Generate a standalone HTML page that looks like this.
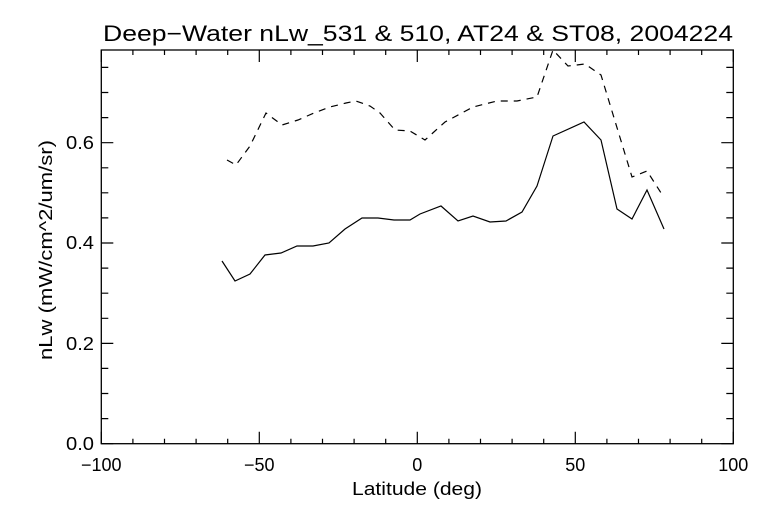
<!DOCTYPE html>
<html><head><style>body{margin:0;background:#fff}svg text{font-family:"Liberation Sans",sans-serif;fill:#000}</style></head><body>
<svg width="768" height="512" xmlns="http://www.w3.org/2000/svg">
<rect width="768" height="512" fill="#fff"/>
<text x="103" y="41" font-size="22" textLength="630" lengthAdjust="spacingAndGlyphs">Deep−Water nLw_531 &amp; 510, AT24 &amp; ST08, 2004224</text>
<g stroke="#000" stroke-width="1.3" fill="none">
<rect x="101.3" y="50" width="632" height="393.7"/>
</g>
<g stroke="#000" stroke-width="1.2">
<path d="M101.3 443.7v-12M259.3 443.7v-12M417.3 443.7v-12M575.3 443.7v-12M733.3 443.7v-12M101.3 50v12M259.3 50v12M417.3 50v12M575.3 50v12M733.3 50v12"/>
<path d="M132.9 443.7v-5M164.5 443.7v-5M196.1 443.7v-5M227.7 443.7v-5M290.9 443.7v-5M322.5 443.7v-5M354.1 443.7v-5M385.7 443.7v-5M448.9 443.7v-5M480.5 443.7v-5M512.1 443.7v-5M543.7 443.7v-5M606.9 443.7v-5M638.5 443.7v-5M670.1 443.7v-5M701.7 443.7v-5M132.9 50v5M164.5 50v5M196.1 50v5M227.7 50v5M290.9 50v5M322.5 50v5M354.1 50v5M385.7 50v5M448.9 50v5M480.5 50v5M512.1 50v5M543.7 50v5M606.9 50v5M638.5 50v5M670.1 50v5M701.7 50v5"/>
<path d="M101.3 443.7h12M101.3 343.4h12M101.3 243h12M101.3 142.7h12M733.3 443.7h-12M733.3 343.4h-12M733.3 243h-12M733.3 142.7h-12"/>
<path d="M101.3 418.6h7M101.3 393.5h7M101.3 368.4h7M101.3 318.3h7M101.3 293.2h7M101.3 268.1h7M101.3 217.9h7M101.3 192.8h7M101.3 167.8h7M101.3 117.6h7M101.3 92.5h7M101.3 67.4h7M733.3 418.6h-7M733.3 393.5h-7M733.3 368.4h-7M733.3 318.3h-7M733.3 293.2h-7M733.3 268.1h-7M733.3 217.9h-7M733.3 192.8h-7M733.3 167.8h-7M733.3 117.6h-7M733.3 92.5h-7M733.3 67.4h-7"/>
</g>
<g font-size="18">
<text x="66" y="450" textLength="28" lengthAdjust="spacingAndGlyphs">0.0</text>
<text x="66" y="350" textLength="28" lengthAdjust="spacingAndGlyphs">0.2</text>
<text x="66" y="249" textLength="28" lengthAdjust="spacingAndGlyphs">0.4</text>
<text x="66" y="149" textLength="28" lengthAdjust="spacingAndGlyphs">0.6</text>
<text x="101.3" y="471" text-anchor="middle">−100</text>
<text x="259.3" y="471" text-anchor="middle">−50</text>
<text x="417.3" y="471" text-anchor="middle">0</text>
<text x="575.3" y="471" text-anchor="middle">50</text>
<text x="733.3" y="471" text-anchor="middle">100</text>
<text x="352" y="495" textLength="130" lengthAdjust="spacingAndGlyphs">Latitude (deg)</text>
<text transform="translate(52,360) rotate(-90)" textLength="220" lengthAdjust="spacingAndGlyphs">nLw (mW/cm^2/um/sr)</text>
</g>
<g fill="none" stroke="#000" stroke-width="1.2">
<polyline points="222,261 235,281 250,274 265,255 281,253 297,246 313,246 329,243 345,229 362,218 378,218 394,220 410,220 420,214 441,206 458,221 473,216 490,222 506,221 522,212 537,186 553,136 584,122 601,140 617,209 632,219 647,190 664,229"/>
<polyline stroke-dasharray="7,6" points="227,160 236,165 250,146 266,113 282,125 298,120 314,113 330,107 346,103 356,101 370,106 380,113 395,130 410,131 425,140 445,122 473,107 497,101 517,101 537,97 553,50 568,66 585,64 601,75 632,177 647,171 663,196"/>
</g>
</svg>
</body></html>
